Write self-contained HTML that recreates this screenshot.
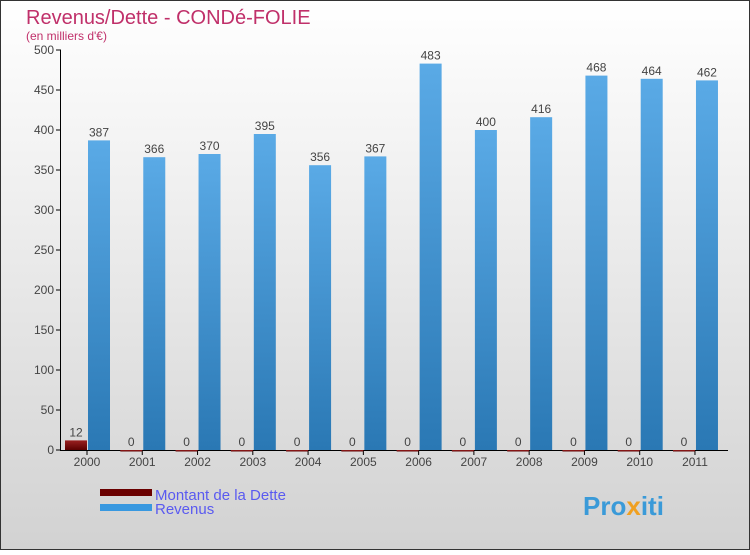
<!DOCTYPE html>
<html><head><meta charset="utf-8"><style>
html,body{margin:0;padding:0}
body{width:750px;height:550px;overflow:hidden;font-family:"Liberation Sans",sans-serif}
</style></head><body>
<svg width="750" height="550" xmlns="http://www.w3.org/2000/svg">
<defs>
<linearGradient id="bg" x1="0" y1="0" x2="0" y2="1"><stop offset="0" stop-color="#ffffff"/><stop offset="1" stop-color="#d2d2d2"/></linearGradient>
<linearGradient id="blue" x1="0" y1="0" x2="0" y2="1"><stop offset="0" stop-color="#5aaae6"/><stop offset="1" stop-color="#2a78b4"/></linearGradient>
<linearGradient id="red" x1="0" y1="0" x2="0" y2="1"><stop offset="0" stop-color="#9a2020"/><stop offset="1" stop-color="#5a0000"/></linearGradient>
</defs>
<rect x="0.5" y="0.5" width="749" height="549" fill="url(#bg)" stroke="#333"/>
<text x="26" y="24" font-size="20" fill="#c0306a">Revenus/Dette - CONDé-FOLIE</text>
<text x="26" y="40" font-size="12" fill="#c0306a">(en milliers d'€)</text>
<g id="axes"></g>
<g id="bars"></g>
<g>
<rect x="100" y="489" width="52" height="7" fill="#6a0000"/>
<text x="155" y="500" font-size="15" fill="#5a5af0">Montant de la Dette</text>
<rect x="100" y="504" width="52" height="7" fill="#3898e0"/>
<text x="155" y="514" font-size="15" fill="#5a5af0">Revenus</text>
</g>
<text x="583" y="515" font-size="26" font-weight="bold" fill="#3a9ad8">Pro<tspan fill="#f0a020">x</tspan>iti</text>
</svg>
<script>
const years=["2000","2001","2002","2003","2004","2005","2006","2007","2008","2009","2010","2011"];
const dette=[12,0,0,0,0,0,0,0,0,0,0,0];
const revenus=[387,366,370,395,356,367,483,400,416,468,464,462];
const ticks=[0,50,100,150,200,250,300,350,400,450,500];
const NS="http://www.w3.org/2000/svg";
const y=v=>450-v*0.8;
const cx=i=>87+i*55.27;
function mk(tag,attrs,parent,txt){const e=document.createElementNS(NS,tag);for(const k in attrs)e.setAttribute(k,attrs[k]);if(txt!==undefined)e.textContent=txt;parent.appendChild(e);return e;}
const ax=document.getElementById('axes'),bg=document.getElementById('bars');
ticks.forEach(t=>{
 const l=mk('line',{x1:56,x2:61,y1:y(t),y2:y(t),stroke:'#000'},ax);
 
 
 const tx=mk('text',{x:54,y:y(t)+4,'font-size':12,fill:'#444','text-anchor':'end'},ax,t);
 
 
});
years.forEach((yr,i)=>{
 const c=cx(i);
 const d=mk('rect',{x:c-22,y:y(dette[i]),width:22,height:Math.max(dette[i]*0.8,1.5),fill:'url(#red)'},bg);
 
 
 const r=mk('rect',{x:c+1,y:y(revenus[i]),width:22,height:revenus[i]*0.8,fill:'url(#blue)'},bg);
 
 
 const dl=mk('text',{x:c-11,y:y(dette[i])-4,'font-size':12,fill:'#444','text-anchor':'middle'},bg,dette[i]);
 
 
 const rl=mk('text',{x:c+12,y:y(revenus[i])-4,'font-size':12,fill:'#444','text-anchor':'middle'},bg,revenus[i]);
 
 
 const tk=mk('line',{x1:c,x2:c,y1:450,y2:455,stroke:'#000'},ax);
 
 
 const xl=mk('text',{x:c,y:466,'font-size':12,fill:'#444','text-anchor':'middle'},ax,yr);
 
 
});
const ya=mk('line',{x1:60.5,x2:60.5,y1:50,y2:450,stroke:'#000'},ax);


const xa=mk('line',{x1:60,x2:728,y1:450.5,y2:450.5,stroke:'#000'},ax);


</script>
</body></html>
